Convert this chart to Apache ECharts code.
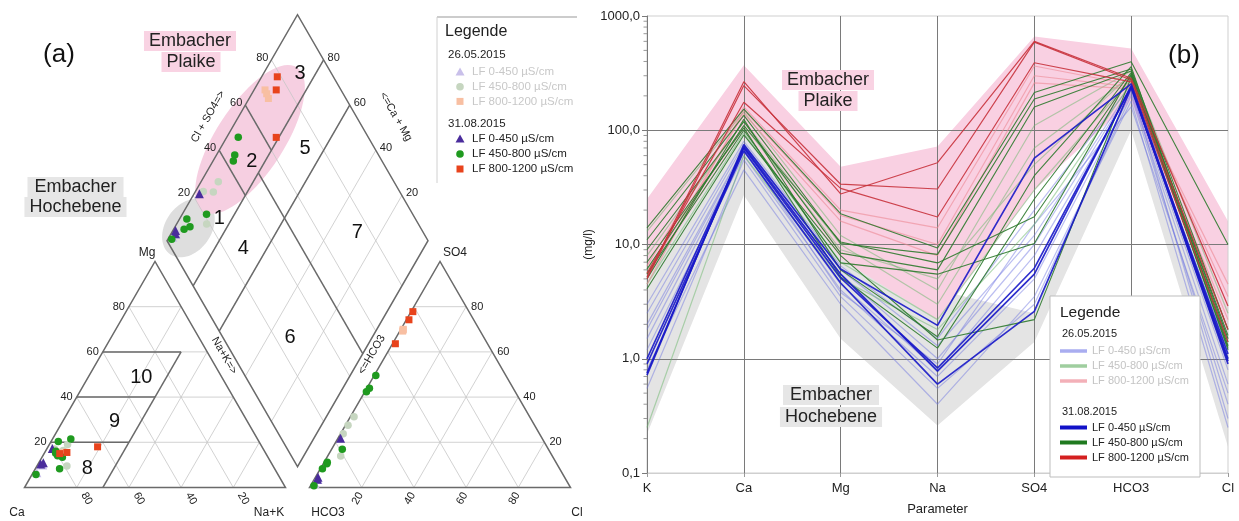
<!DOCTYPE html>
<html><head><meta charset="utf-8">
<script src="https://cdn.jsdelivr.net/npm/echarts@6/dist/echarts.min.js"></script>
<style>html,body{margin:0;padding:0;background:#fff}#c{width:1239px;height:521px}</style>
</head><body><div id="c"></div>
<script>
// ================= DATA =================
// (b) Schoeller diagram, values in mg/l
const schoellerParams = ['K', 'Ca', 'Mg', 'Na', 'SO4', 'HCO3', 'Cl'];
// 26.05.2015
const may_LF0_450 = [
  [3.0, 80, 6.5, 1.5, 20, 250, 1.5],
  [2.0, 70, 5.5, 1.0, 10, 230, 1.2],
  [1.5, 65, 4.5, 0.8, 8, 220, 0.8],
  [1.2, 60, 4.0, 0.7, 5, 210, 0.6],
  [0.55, 55, 3.5, 0.55, 3, 200, 0.4],
  [0.8, 45, 3.0, 0.4, 3.5, 180, 0.25],
  [2.5, 75, 6.0, 1.3, 12, 240, 0.3],
  [1.8, 68, 3.8, 0.9, 15, 160, 0.5]
];
const may_LF450_800 = [
  [13, 145, 12, 4.0, 110, 330, 2.5],
  [8, 120, 10, 3.0, 70, 300, 1.8],
  [4.5, 95, 7, 2.2, 30, 280, 1.5],
  [0.25, 60, 5, 1.8, 15, 260, 1.0],
  [6, 110, 9, 5.0, 50, 310, 1.3]
];
const may_LF800_1200 = [
  [6.5, 160, 20, 14, 365, 250, 3.5],
  [4.5, 150, 18, 10, 300, 240, 2.2],
  [5.5, 140, 16, 8, 260, 230, 4.5]
];
// 31.08.2015
const aug_LF0_450 = [
  [0.72, 75, 6.1, 1.96, 57, 255, 1.0],
  [1.0, 70, 5.1, 0.83, 6.2, 240, 0.95],
  [0.9, 66, 4.6, 0.6, 2.6, 235, 1.1],
  [0.75, 72, 5.5, 0.78, 5.5, 245, 0.9]
];
const aug_LF450_800 = [
  [14, 153, 18.6, 9.3, 214, 397, 10],
  [11, 135, 10.2, 8.2, 188, 343, 1.8],
  [9, 119, 8.4, 6.0, 160, 330, 1.5],
  [6.1, 110, 10.5, 6.9, 17.5, 300, 1.4],
  [5.5, 100, 6.9, 5.5, 10.2, 310, 1.6],
  [4.1, 91, 8.0, 1.46, 2.2, 290, 1.25],
  [5.0, 125, 6.0, 1.56, 40, 360, 1.3],
  [7.0, 105, 5.2, 1.24, 25, 320, 1.2]
];
const aug_LF800_1200 = [
  [5.2, 266, 27.7, 52, 600, 285, 2.9],
  [5.0, 246, 33.7, 30.6, 590, 275, 1.8],
  [5.6, 176, 31, 17.4, 390, 265, 1.4]
];
// envelope bands (mg/l)
const plaikeUpper = [25, 370, 48, 72, 660, 520, 16];
const plaikeLower = [5, 100, 7.5, 2.2, 30, 180, 1.6];
const hochUpper = [14, 110, 11, 4, 2.5, 250, 2.5];
const hochLower = [0.22, 27, 1.5, 0.26, 1.4, 100, 0.17];
const yTickValues = [0.1, 1, 10, 100, 1000];

// (a) Piper diagram, meq-% : [Ca, Mg, Na+K, HCO3, SO4, Cl]
const piperMay_LF0_450 = [
  [88, 10, 2, 95, 3.5, 1.5],
  [92, 6.5, 1.5, 97, 1.8, 1.2]
];
const piperMay_LF450_800 = [
  [77, 16.4, 6.6, 67.3, 31.3, 1.4],
  [74, 19, 7, 71.5, 27.5, 1.0],
  [80, 17, 3, 75.2, 23.8, 1.0],
  [79, 9.5, 11.5, 81.1, 13.9, 5.0]
];
const piperMay_LF800_1200 = [
  [80, 15.8, 4.2, 29.1, 70, 0.9],
  [79, 15.3, 5.7, 29.3, 69.7, 1.0],
  [77, 15.6, 7.4, 29.7, 69.2, 1.1]
];
const piperAug_LF0_450 = [
  [80.7, 17.3, 2.0, 77.2, 21.8, 1.0],
  [87.3, 11.0, 1.7, 95.2, 3.6, 1.2],
  [88.6, 10.4, 1.0, 94.5, 4.5, 1.0]
];
const piperAug_LF450_800 = [
  [80.5, 15.1, 4.4, 49.8, 49.6, 0.6],
  [71.5, 21.5, 7.0, 55.1, 43.9, 1.0],
  [78.8, 13.4, 7.8, 57.0, 42.4, 0.6],
  [82.4, 8.3, 9.3, 79.0, 16.9, 4.1],
  [76.9, 20.3, 2.8, 87.6, 11.2, 1.2],
  [80.3, 14.0, 5.7, 88.1, 10.5, 1.4],
  [80.0, 16.0, 4.0, 90.9, 8.3, 0.8],
  [92.7, 5.8, 1.5, 97.9, 0.8, 1.3]
];
const piperAug_LF800_1200 = [
  [79, 15, 6, 21.5, 77.8, 0.7],
  [76, 15.5, 8.5, 24.8, 74.2, 1.0],
  [63, 18, 19, 35.3, 63.6, 1.1]
];
const piperTicks = [20, 40, 60, 80];

// ================= LAYOUT =================
const FONT = '"Liberation Sans", Arial, Helvetica, sans-serif';
const PX = 2.61;          // px per ternary unit
const GAP = 9.2;          // gap between triangles (units)
const SQ = 0.8660254;
const BX = 100 + GAP / 2, BY = GAP / 2 * Math.sqrt(3);
const catU = (ca, mg, nak) => [nak + mg / 2, mg * SQ];
const anU = (hco3, so4, cl) => [100 + GAP + cl + so4 / 2, so4 * SQ];
const diaU = (a, c) => [BX + (c - a) / 2, BY + (a + c) * SQ];

function piperPoints(rows) {
  const out = [];
  rows.forEach(r => {
    out.push(catU(r[0], r[1], r[2]));
    out.push(anU(r[3], r[4], r[5]));
    out.push(diaU(r[0] + r[1], r[4] + r[5]));
  });
  return out;
}

function txt(x, y, text, o) {
  o = o || {};
  const st = {
    text: text, fill: o.color || '#222', textFill: o.color || '#222',
    font: (o.weight ? o.weight + ' ' : '') + (o.size || 11) + 'px ' + FONT,
    align: o.align || 'center', textAlign: o.align || 'center',
    verticalAlign: 'middle', textVerticalAlign: 'middle'
  };
  if (o.bg) { st.backgroundColor = o.bg; st.padding = o.pad || [1, 4]; }
  return { type: 'text', x: x, y: y, rotation: (o.rot || 0) * Math.PI / 180, z: o.z || 100, style: st };
}

function ellipse(c, rx, ry, deg, fill) {
  const t0 = deg * Math.PI / 180, pts = [];
  for (let i = 0; i < 72; i++) {
    const t = i / 72 * Math.PI * 2;
    const ex = rx * Math.cos(t), ey = ry * Math.sin(t);
    pts.push([c[0] + ex * Math.cos(t0) - ey * Math.sin(t0), c[1] - (ex * Math.sin(t0) + ey * Math.cos(t0))]);
  }
  return { type: 'polygon', shape: { points: pts }, style: { fill: fill } };
}

function renderPiper(params, api) {
  const C = (a, b, c) => api.coord(catU(a, b, c));
  const A = (a, b, c) => api.coord(anU(a, b, c));
  const D = (a, c) => api.coord(diaU(a, c));
  const ch = [];
  // ellipses
  ch.push(ellipse(D(94.6, 11), 32, 23, 55, '#dedede'));
  ch.push(ellipse(D(90.6, 54.2), 86, 34, 57, '#f6cfe1'));
  const thin = { stroke: '#c6c6c6', lineWidth: 0.8 };
  const bold = { stroke: '#6a6a6a', lineWidth: 1.5 };
  const L = (p, q, s) => ch.push({ type: 'line', shape: { x1: p[0], y1: p[1], x2: q[0], y2: q[1] }, style: s });
  piperTicks.forEach(v => {
    L(C(100 - v, v, 0), C(0, v, 100 - v), thin);
    L(C(v, 0, 100 - v), C(v, 100 - v, 0), thin);
    L(C(100 - v, 0, v), C(0, 100 - v, v), thin);
    L(A(100 - v, v, 0), A(0, v, 100 - v), thin);
    L(A(v, 0, 100 - v), A(v, 100 - v, 0), thin);
    L(A(100 - v, 0, v), A(0, 100 - v, v), thin);
    L(D(v, 0), D(v, 100), thin);
    L(D(0, v), D(100, v), thin);
  });
  const outline = pts => ch.push({ type: 'polygon', shape: { points: pts }, style: { fill: 'none', stroke: '#6a6a6a', lineWidth: 1.5 } });
  outline([C(100, 0, 0), C(0, 0, 100), C(0, 100, 0)]);
  outline([A(100, 0, 0), A(0, 0, 100), A(0, 100, 0)]);
  outline([D(0, 0), D(100, 0), D(100, 100), D(0, 100)]);
  [20, 40, 60].forEach(v => L(C(100 - v, v, 0), C(70 - v, v, 30), bold));
  L(C(70, 0, 30), C(10, 60, 30), bold);
  L(D(80, 0), D(80, 100), bold);
  L(D(60, 0), D(60, 100), bold);
  L(D(0, 50), D(80, 50), bold);
  L(D(80, 40), D(100, 40), bold);
  L(D(80, 60), D(100, 60), bold);
  piperTicks.forEach(v => {
    let p = C(100 - v, v, 0); ch.push(txt(p[0] - 4, p[1], String(v), { align: 'right' }));
    p = C(v, 0, 100 - v); ch.push(txt(p[0] + 10, p[1] + 11, String(v), { rot: -60 }));
    p = A(0, v, 100 - v); ch.push(txt(p[0] + 5, p[1], String(v), { align: 'left' }));
    p = A(100 - v, 0, v); ch.push(txt(p[0] - 4, p[1] + 11, String(v), { rot: 60 }));
    p = D(100, v); ch.push(txt(p[0] - 3, p[1] - 2, String(v), { align: 'right' }));
    p = D(v, 100); ch.push(txt(p[0] + 4, p[1] - 2, String(v), { align: 'left' }));
  });
  const corner = (p, dx, dy, t) => ch.push(txt(p[0] + dx, p[1] + dy, t, { size: 12 }));
  corner(C(100, 0, 0), -7.5, 25, 'Ca');
  corner(C(0, 0, 100), -16.5, 25, 'Na+K');
  corner(C(0, 100, 0), -8, -8.5, 'Mg');
  corner(A(100, 0, 0), 18.5, 25, 'HCO3');
  corner(A(0, 0, 100), 6.5, 25, 'Cl');
  corner(A(0, 100, 0), 15, -8.5, 'SO4');
  let p = D(100, 50); ch.push(txt(p[0] - 24, p[1] - 11, 'Cl + SO4=>', { rot: 60 }));
  p = D(50, 100); ch.push(txt(p[0] + 33, p[1] - 11, '<=Ca + Mg', { rot: -60 }));
  p = D(50, 0); ch.push(txt(p[0] - 8, p[1] + 2, 'Na+K=>', { rot: -60 }));
  p = D(0, 50); ch.push(txt(p[0] + 9, p[1] + 1, '<=HCO3', { rot: 60 }));
  const field = (q, t) => ch.push(txt(q[0], q[1], t, { size: 20, color: '#111' }));
  field(D(85, 25), '1'); field(D(85, 50), '2'); field(D(86, 88), '3');
  field(D(69, 27.5), '4'); field(D(67.6, 73.3), '5'); field(D(31.5, 25.8), '6'); field(D(29, 74.8), '7');
  field(C(71.8, 8.2, 20), '8'); field(C(51, 29, 20), '9'); field(C(31, 48.5, 20.5), '10');
  return { type: 'group', children: ch };
}

function renderBands(params, api) {
  const poly = (up, lo, fill) => {
    const pts = [];
    up.forEach((v, i) => pts.push(api.coord([i, v])));
    for (let i = lo.length - 1; i >= 0; i--) pts.push(api.coord([i, lo[i]]));
    return { type: 'polygon', shape: { points: pts }, style: { fill: fill } };
  };
  return { type: 'group', children: [poly(hochUpper, hochLower, '#e4e4e4'), poly(plaikeUpper, plaikeLower, '#f9d0e2')] };
}

function renderMinorTicks(params, api) {
  const ch = [];
  for (let d = 0; d < yTickValues.length - 1; d++) {
    for (let m = 2; m <= 9; m++) {
      const q = api.coord([0, yTickValues[d] * m]);
      ch.push({ type: 'line', shape: { x1: q[0] - 3.5, y1: q[1], x2: q[0], y2: q[1] }, style: { stroke: '#999', lineWidth: 1 } });
    }
  }
  return { type: 'group', children: ch };
}

const series = [];
series.push({ type: 'custom', xAxisIndex: 0, yAxisIndex: 0, renderItem: renderPiper, data: [[0, 0]], z: 1, silent: true });
const sc = (rows, sym, size, color, z) => series.push({
  type: 'scatter', xAxisIndex: 0, yAxisIndex: 0, data: piperPoints(rows), symbol: sym, symbolSize: size,
  itemStyle: { color: color, opacity: 1 }, z: z, silent: true
});
sc(piperMay_LF0_450, 'triangle', 9, '#c9c0ea', 3);
sc(piperMay_LF450_800, 'circle', 7.5, '#c6d6c0', 3);
sc(piperMay_LF800_1200, 'rect', 7, '#f8bfa2', 3);
sc(piperAug_LF0_450, 'triangle', 9, '#4a2c9c', 4);
sc(piperAug_LF450_800, 'circle', 7.5, '#1f9a1f', 4);
sc(piperAug_LF800_1200, 'rect', 7, '#e8431c', 4);

series.push({ type: 'custom', xAxisIndex: 1, yAxisIndex: 1, renderItem: renderBands, data: [[0, 1]], z: -1, silent: true });
series.push({ type: 'custom', xAxisIndex: 1, yAxisIndex: 1, renderItem: renderMinorTicks, data: [[0, 1]], z: 5, silent: true });
const ln = (rows, color, width, opacity, z) => rows.forEach(r => series.push({
  type: 'line', xAxisIndex: 1, yAxisIndex: 1, data: r, symbol: 'none', silent: true, z: z,
  lineStyle: { color: color, width: width, opacity: opacity }
}));
ln(may_LF0_450, '#6a72e0', 1.2, 0.45, 2);
ln(may_LF450_800, '#6cb86c', 1.2, 0.5, 2);
ln(may_LF800_1200, '#ec8894', 1.2, 0.6, 2);
ln(aug_LF450_800, '#2d7a2d', 1.1, 0.9, 3);
ln(aug_LF800_1200, '#c8323c', 1.2, 0.9, 3);
ln(aug_LF0_450, '#1818c8', 1.7, 0.9, 3);

const g = [];
g.push(txt(59, 55, '(a)', { size: 26, color: '#111' }));
g.push(txt(1184, 56, '(b)', { size: 26, color: '#111' }));
g.push(txt(190, 41, 'Embacher', { size: 18, bg: '#f9d3e3', pad: [1, 5] }));
g.push(txt(191, 62, 'Plaike', { size: 18, bg: '#f9d3e3', pad: [1, 5] }));
g.push(txt(75.5, 187, 'Embacher', { size: 18, bg: '#e6e6e6', pad: [1, 7] }));
g.push(txt(75.5, 207, 'Hochebene', { size: 18, bg: '#e6e6e6', pad: [1, 5] }));
g.push(txt(828, 80, 'Embacher', { size: 18, bg: '#f9d3e3', pad: [1, 5] }));
g.push(txt(828, 101, 'Plaike', { size: 18, bg: '#f9d3e3', pad: [1, 5] }));
g.push(txt(831, 395, 'Embacher', { size: 18, bg: '#e6e6e6', pad: [1, 7] }));
g.push(txt(831, 417, 'Hochebene', { size: 18, bg: '#e6e6e6', pad: [1, 5] }));

g.push({ type: 'line', z: 100, shape: { x1: 437, y1: 17, x2: 577, y2: 17 }, style: { stroke: '#999', lineWidth: 1 } });
g.push({ type: 'line', z: 100, shape: { x1: 437, y1: 17, x2: 437, y2: 183 }, style: { stroke: '#d0d0d0', lineWidth: 1 } });
g.push(txt(445, 31.5, 'Legende', { size: 16, align: 'left' }));
g.push(txt(448, 55, '26.05.2015', { size: 11.5, align: 'left' }));
g.push(txt(448, 124, '31.08.2015', { size: 11.5, align: 'left' }));
const legRows = [
  ['LF 0-450 µS/cm', 'tri'], ['LF 450-800 µS/cm', 'cir'], ['LF 800-1200 µS/cm', 'sq']
];
const legLight = ['#c9c0ea', '#c6d6c0', '#f8bfa2'];
const legDark = ['#4a2c9c', '#1f9a1f', '#e8431c'];
const sym = (kind, x, y, color) => {
  if (kind === 'tri') return { type: 'polygon', z: 100, shape: { points: [[x, y - 4.5], [x + 4.5, y + 3.5], [x - 4.5, y + 3.5]] }, style: { fill: color } };
  if (kind === 'cir') return { type: 'circle', z: 100, shape: { cx: x, cy: y, r: 3.8 }, style: { fill: color } };
  return { type: 'rect', z: 100, shape: { x: x - 3.5, y: y - 3.5, width: 7, height: 7 }, style: { fill: color } };
};
legRows.forEach((r, i) => {
  g.push(sym(r[1], 460, 72 + i * 14.7, legLight[i]));
  g.push(txt(472, 72 + i * 14.7, r[0], { size: 11.5, align: 'left', color: '#c8c8c8' }));
  g.push(sym(r[1], 460, 139 + i * 15, legDark[i]));
  g.push(txt(472, 139 + i * 15, r[0], { size: 11.5, align: 'left', color: '#222' }));
});

g.push({ type: 'rect', z: 100, shape: { x: 1050, y: 296, width: 150, height: 181 }, style: { fill: '#fff', stroke: '#bdbdbd', lineWidth: 1 } });
g.push(txt(1060, 312.5, 'Legende', { size: 15.5, align: 'left' }));
g.push(txt(1062, 334, '26.05.2015', { size: 11, align: 'left' }));
g.push(txt(1062, 412, '31.08.2015', { size: 11, align: 'left' }));
const lLight = ['#a9adf0', '#9fce9f', '#f3b0b8'];
const lDark = ['#1212c8', '#1f7a1f', '#d42020'];
legRows.forEach((r, i) => {
  const y1 = 351 + i * 15, y2 = 427.5 + i * 15;
  g.push({ type: 'line', z: 101, shape: { x1: 1060, y1: y1, x2: 1087, y2: y1 }, style: { stroke: lLight[i], lineWidth: 3.5 } });
  g.push(txt(1092, y1, r[0], { size: 11, align: 'left', color: '#c4c4c4', z: 101 }));
  g.push({ type: 'line', z: 101, shape: { x1: 1060, y1: y2, x2: 1087, y2: y2 }, style: { stroke: lDark[i], lineWidth: 4 } });
  g.push(txt(1092, y2, r[0], { size: 11, align: 'left', color: '#222', z: 101 }));
});

const chart = echarts.init(document.getElementById('c'), null, { renderer: 'canvas' });
chart.setOption({
  animation: false,
  textStyle: { fontFamily: FONT },
  grid: [
    { left: 24.5, top: 0, width: 220 * PX, height: 487.5, show: false },
    { left: 647, top: 16, width: 581, height: 464, show: true, borderColor: '#cfcfcf', borderWidth: 1, backgroundColor: 'transparent' }
  ],
  xAxis: [
    { gridIndex: 0, type: 'value', min: 0, max: 220, show: false },
    {
      gridIndex: 1, type: 'category', data: schoellerParams, boundaryGap: false,
      axisLine: { show: true, lineStyle: { color: '#cfcfcf' } },
      axisTick: { show: true, length: 4, lineStyle: { color: '#999' } },
      axisLabel: { fontSize: 13, color: '#222', margin: 9, fontFamily: FONT },
      splitLine: { show: true, showMinLine: true, showMaxLine: false, lineStyle: { color: '#7a7a7a', width: 1 } },
      name: 'Parameter', nameLocation: 'middle', nameGap: 30,
      nameTextStyle: { fontSize: 13, color: '#222', fontFamily: FONT }
    }
  ],
  yAxis: [
    { gridIndex: 0, type: 'value', min: 0, max: 487.5 / PX, show: false },
    {
      gridIndex: 1, type: 'log', logBase: 10, min: yTickValues[0], max: yTickValues[yTickValues.length - 1],
      axisLine: { show: true, lineStyle: { color: '#7a7a7a' } },
      axisTick: { show: true, length: 5, lineStyle: { color: '#7a7a7a' } },
      axisLabel: { fontSize: 13, color: '#222', margin: 7, fontFamily: FONT,
        formatter: v => Number(v).toFixed(1).replace('.', ',') },
      splitLine: { show: true, showMinLine: false, showMaxLine: false, lineStyle: { color: '#7a7a7a', width: 1 } },
      name: '(mg/l)', nameLocation: 'middle', nameGap: 52, nameRotate: 90,
      nameTextStyle: { fontSize: 12, color: '#222', fontFamily: FONT }
    }
  ],
  series: series,
  graphic: g
});
</script>
</body></html>
